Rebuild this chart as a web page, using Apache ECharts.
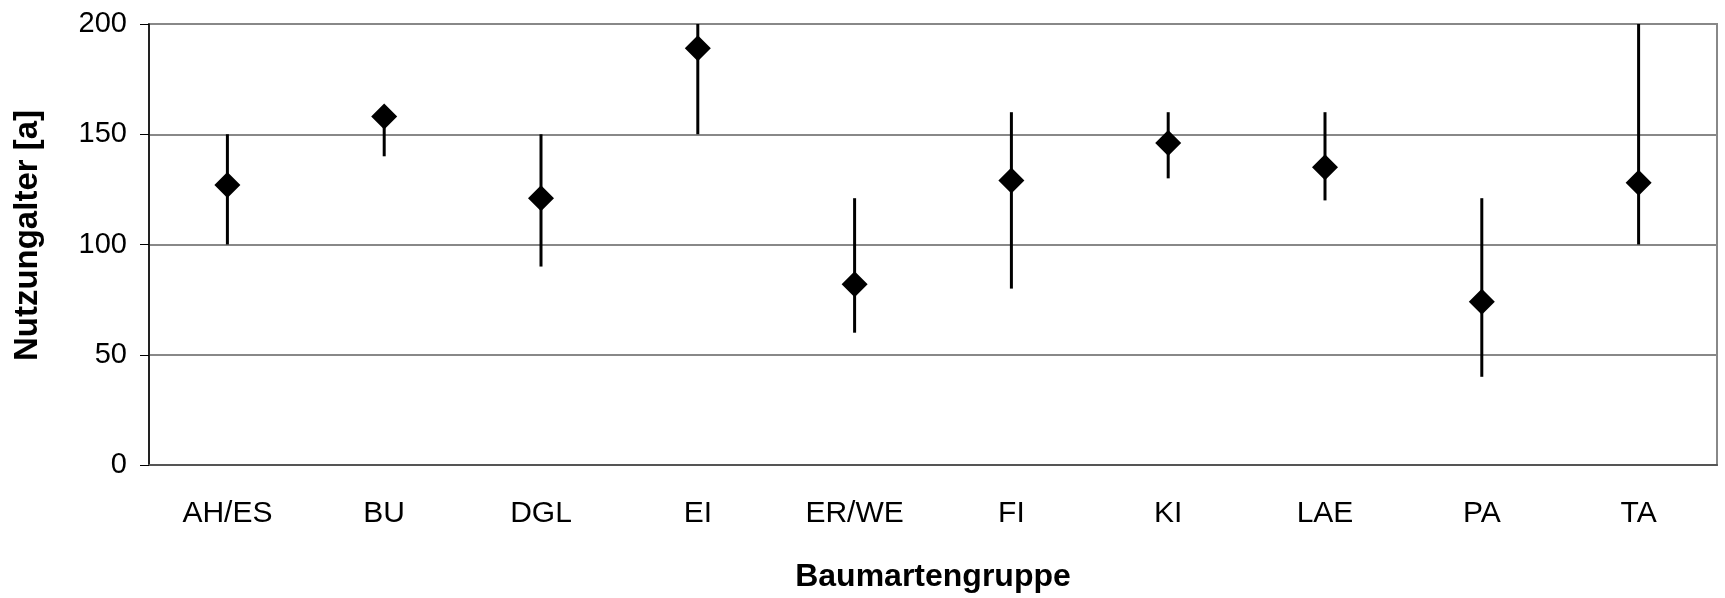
<!DOCTYPE html>
<html>
<head>
<meta charset="utf-8">
<script src="https://cdn.jsdelivr.net/npm/echarts@6/dist/echarts.min.js"></script>
<style>
  html, body { margin: 0; padding: 0; background: #fff; }
  #chart { width: 1725px; height: 598px; }
</style>
</head>
<body>
<div id="chart"></div>
<script>
// Baumartengruppen und Nutzungalter (Mittel, Minimum, Maximum)
const categories = ['AH/ES', 'BU', 'DGL', 'EI', 'ER/WE', 'FI', 'KI', 'LAE', 'PA', 'TA']
const meanAge = [127, 158, 121, 189, 82, 129, 146, 135, 74, 128]
const minAge = [100, 140, 90, 150, 60, 80, 130, 120, 40, 100]
const maxAge = [150, 160, 150, 200, 121, 160, 160, 160, 121, 200]
const yTicks = [0, 50, 100, 150, 200]

const font = 'Liberation Sans, Arial, sans-serif'

const chart = echarts.init(document.getElementById('chart'))

const option = {
  animation: false,
  backgroundColor: '#fff',
  grid: {
    left: 149,
    right: 8,
    top: 24,
    bottom: 133,
    show: true,
    borderColor: '#888',
    borderWidth: 2
  },
  xAxis: [{
    type: 'category',
    data: categories,
    name: 'Baumartengruppe',
    nameLocation: 'middle',
    nameGap: 96,
    nameTextStyle: { fontFamily: font, fontSize: 32, fontWeight: 'bold', color: '#000' },
    axisLine: { lineStyle: { color: '#555', width: 2 } },
    axisTick: { length: 7, lineStyle: { color: '#000', width: 1 } },
    axisLabel: { fontFamily: font, fontSize: 30, color: '#000', margin: 34 },
    splitLine: { show: false }
  }, {
    type: 'category',
    data: categories,
    position: 'bottom',
    axisLine: { show: false },
    axisTick: { inside: true, length: 7, lineStyle: { color: '#000', width: 1 } },
    axisLabel: { show: false },
    splitLine: { show: false }
  }],
  yAxis: {
    type: 'value',
    min: yTicks[0],
    max: yTicks[yTicks.length - 1],
    interval: 50,
    name: 'Nutzungalter [a]',
    nameLocation: 'middle',
    nameGap: 105,
    nameTextStyle: {
      fontFamily: font, fontSize: 33, fontWeight: 'bold', color: '#000',
      padding: [0, 0, 0, 18]
    },
    axisLine: { show: true, lineStyle: { color: '#000', width: 1.5 } },
    axisTick: { show: true, length: 9, lineStyle: { color: '#000', width: 1 } },
    axisLabel: { fontFamily: font, fontSize: 29, color: '#000', margin: 22 },
    splitLine: { lineStyle: { color: '#888', width: 2 } }
  },
  series: [{
    type: 'custom',
    data: categories.map((c, i) => [i, minAge[i], maxAge[i]]),
    renderItem: (params, api) => {
      const lo = api.coord([api.value(0), api.value(1)])
      const hi = api.coord([api.value(0), api.value(2)])
      return {
        type: 'line',
        shape: { x1: lo[0], y1: lo[1], x2: hi[0], y2: hi[1] },
        style: { stroke: '#000', lineWidth: 3 }
      }
    },
    z: 3
  }, {
    type: 'scatter',
    data: meanAge,
    symbol: 'diamond',
    symbolSize: [26, 26],
    itemStyle: { color: '#000', opacity: 1 },
    z: 4
  }]
}

chart.setOption(option)
</script>
</body>
</html>
